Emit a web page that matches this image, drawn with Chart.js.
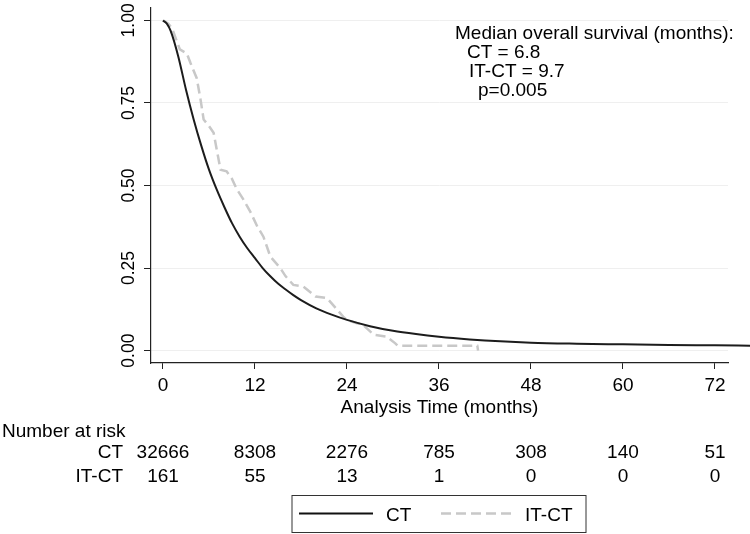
<!DOCTYPE html>
<html lang="en">
<head>
    <meta charset="UTF-8">
    <title>Overall survival CT vs IT-CT</title>
    <script src="https://cdn.jsdelivr.net/npm/chart.js"></script>
    <style>
        body { margin: 0; background: #fff; }
        #wrap { width: 750px; height: 534px; }
    </style>
</head>
<body>
<div id="wrap"><canvas id="kmChart" width="750" height="534"></canvas></div>
<script>
// tick labels
const timeTicks = [0, 12, 24, 36, 48, 60, 72];
const survTicks = [0, 0.25, 0.5, 0.75, 1];

// CT curve (months, survival)
const ctTime = [0, 0.5, 1, 2, 3, 4, 5, 6, 7, 8, 9, 10, 11, 12, 13, 14, 15, 16, 17, 18,
                20, 22, 24, 27, 30, 33, 36, 40, 44, 48, 54, 60, 66, 72, 77];
const ctSurv = [1.00, 0.99, 0.968, 0.89, 0.79, 0.70, 0.62, 0.548, 0.488, 0.435, 0.386, 0.345, 0.31, 0.28, 0.25, 0.225, 0.203, 0.185, 0.168, 0.153,
                0.128, 0.109, 0.093, 0.074, 0.060, 0.050, 0.042, 0.034, 0.028, 0.024, 0.021, 0.019, 0.017, 0.016, 0.015];

// IT-CT curve
const itTime = [0, 0.7, 1.2, 2.2, 3.1, 3.6, 4.4, 4.9, 5.3, 6.0, 6.6, 7.0, 7.5, 8.3, 9.0, 9.6, 10.5, 11.4, 12.3, 13.1,
                14.0, 15.3, 16.0, 17.0, 18.3, 19.9, 21.4, 23.5, 24.0, 25.3, 26.0, 27.5, 29.2, 30.3, 30.6, 41.0, 41.1];
const itSurv = [1.00, 0.99, 0.975, 0.912, 0.90, 0.87, 0.825, 0.76, 0.70, 0.68, 0.66, 0.61, 0.548, 0.543, 0.52, 0.49, 0.457, 0.42, 0.376, 0.345,
                0.285, 0.25, 0.225, 0.199, 0.194, 0.164, 0.159, 0.103, 0.093, 0.083, 0.080, 0.048, 0.042, 0.022, 0.015, 0.015, 0.0];

// number at risk table
const ctAtRisk = [32666, 8308, 2276, 785, 308, 140, 51];
const itAtRisk = [161, 55, 13, 1, 0, 0, 0];
const seriesNames = ['CT', 'IT-CT'];

const noteLines = ['Median overall survival (months):', 'CT = 6.8', 'IT-CT = 9.7', 'p=0.005'];

const FONT = '"Liberation Sans", Arial, Helvetica, sans-serif';
const toPts = (xs, ys) => xs.map((x, i) => ({ x: x, y: ys[i] }));

// text around the plot: tick labels, note, risk table, legend
const overlay = {
    id: 'overlay',
    afterDraw(chart) {
        const ctx = chart.ctx;
        const xs = chart.scales.x, ys = chart.scales.y;
        ctx.save();
        ctx.fillStyle = '#000';
        ctx.font = '19px ' + FONT;

        // x tick labels
        ctx.textAlign = 'center';
        ctx.textBaseline = 'alphabetic';
        timeTicks.forEach(t => ctx.fillText(String(t), xs.getPixelForValue(t), 390.5));

        // x title
        ctx.fillText('Analysis Time (months)', (chart.chartArea.left + chart.chartArea.right) / 2, 412.5);

        // y tick labels, rotated
        ctx.font = '17.5px ' + FONT;
        survTicks.forEach(v => {
            ctx.save();
            ctx.translate(133.5, ys.getPixelForValue(v));
            ctx.rotate(-Math.PI / 2);
            ctx.textAlign = 'center';
            ctx.fillText(v.toFixed(2), 0, 0);
            ctx.restore();
        });

        // median note
        ctx.font = '19px ' + FONT;
        ctx.textAlign = 'left';
        const noteX = [455, 467, 469, 478];
        const noteY = [39, 58, 77, 96];
        noteLines.forEach((s, i) => ctx.fillText(s, noteX[i], noteY[i]));

        // number at risk
        ctx.fillText('Number at risk', 2, 436.5);
        ctx.textAlign = 'right';
        ctx.fillText(seriesNames[0], 123, 457.5);
        ctx.fillText(seriesNames[1], 123, 481.5);
        ctx.textAlign = 'center';
        timeTicks.forEach((t, i) => {
            const px = xs.getPixelForValue(t);
            ctx.fillText(String(ctAtRisk[i]), px, 457.5);
            ctx.fillText(String(itAtRisk[i]), px, 481.5);
        });

        // legend
        ctx.strokeStyle = '#333';
        ctx.lineWidth = 1;
        ctx.strokeRect(292, 495.5, 294, 37);
        ctx.beginPath();
        ctx.strokeStyle = '#111';
        ctx.lineWidth = 2;
        ctx.moveTo(299, 513.5); ctx.lineTo(373, 513.5);
        ctx.stroke();
        ctx.beginPath();
        ctx.strokeStyle = '#c8c8c8';
        ctx.lineWidth = 2.5;
        ctx.setLineDash([10, 5]);
        ctx.moveTo(441, 513.5); ctx.lineTo(512, 513.5);
        ctx.stroke();
        ctx.setLineDash([]);
        ctx.textAlign = 'left';
        ctx.fillText(seriesNames[0], 386, 520.5);
        ctx.fillText(seriesNames[1], 525, 520.5);
        ctx.restore();
    }
};

const ctx = document.getElementById('kmChart').getContext('2d');
new Chart(ctx, {
    type: 'line',
    data: {
        datasets: [
            {
                label: seriesNames[0],
                data: toPts(ctTime, ctSurv),
                borderColor: '#1c1c1c',
                borderWidth: 2,
                pointRadius: 0,
                cubicInterpolationMode: 'monotone',
                clip: false
            },
            {
                label: seriesNames[1],
                data: toPts(itTime, itSurv),
                borderColor: '#c8c8c8',
                borderWidth: 2.5,
                borderDash: [10, 5],
                pointRadius: 0,
                tension: 0,
                clip: false
            }
        ]
    },
    options: {
        responsive: false,
        animation: false,
        events: [],
        layout: { padding: { top: 8, right: 22, left: 0, bottom: 0 } },
        plugins: {
            legend: { display: false },
            tooltip: { enabled: false }
        },
        scales: {
            x: {
                type: 'linear',
                min: -1.565,
                max: 73.7,
                afterBuildTicks: s => { s.ticks = timeTicks.map(v => ({ value: v })); },
                afterFit: s => { s.height = 171; },
                ticks: { display: false },
                grid: { drawOnChartArea: false, drawTicks: true, tickLength: 6, tickColor: '#222', tickWidth: 1 },
                border: { display: true, color: '#222', width: 1.2 }
            },
            y: {
                type: 'linear',
                min: -0.0375,
                max: 1.0375,
                afterBuildTicks: s => { s.ticks = survTicks.map(v => ({ value: v })); },
                afterFit: s => { s.width = 151; },
                ticks: { display: false },
                grid: { color: '#efefef', lineWidth: 1, drawTicks: true, tickLength: 7, tickColor: '#222', tickWidth: 1 },
                border: { display: true, color: '#222', width: 1.2 }
            }
        }
    },
    plugins: [overlay]
});
</script>
</body>
</html>
